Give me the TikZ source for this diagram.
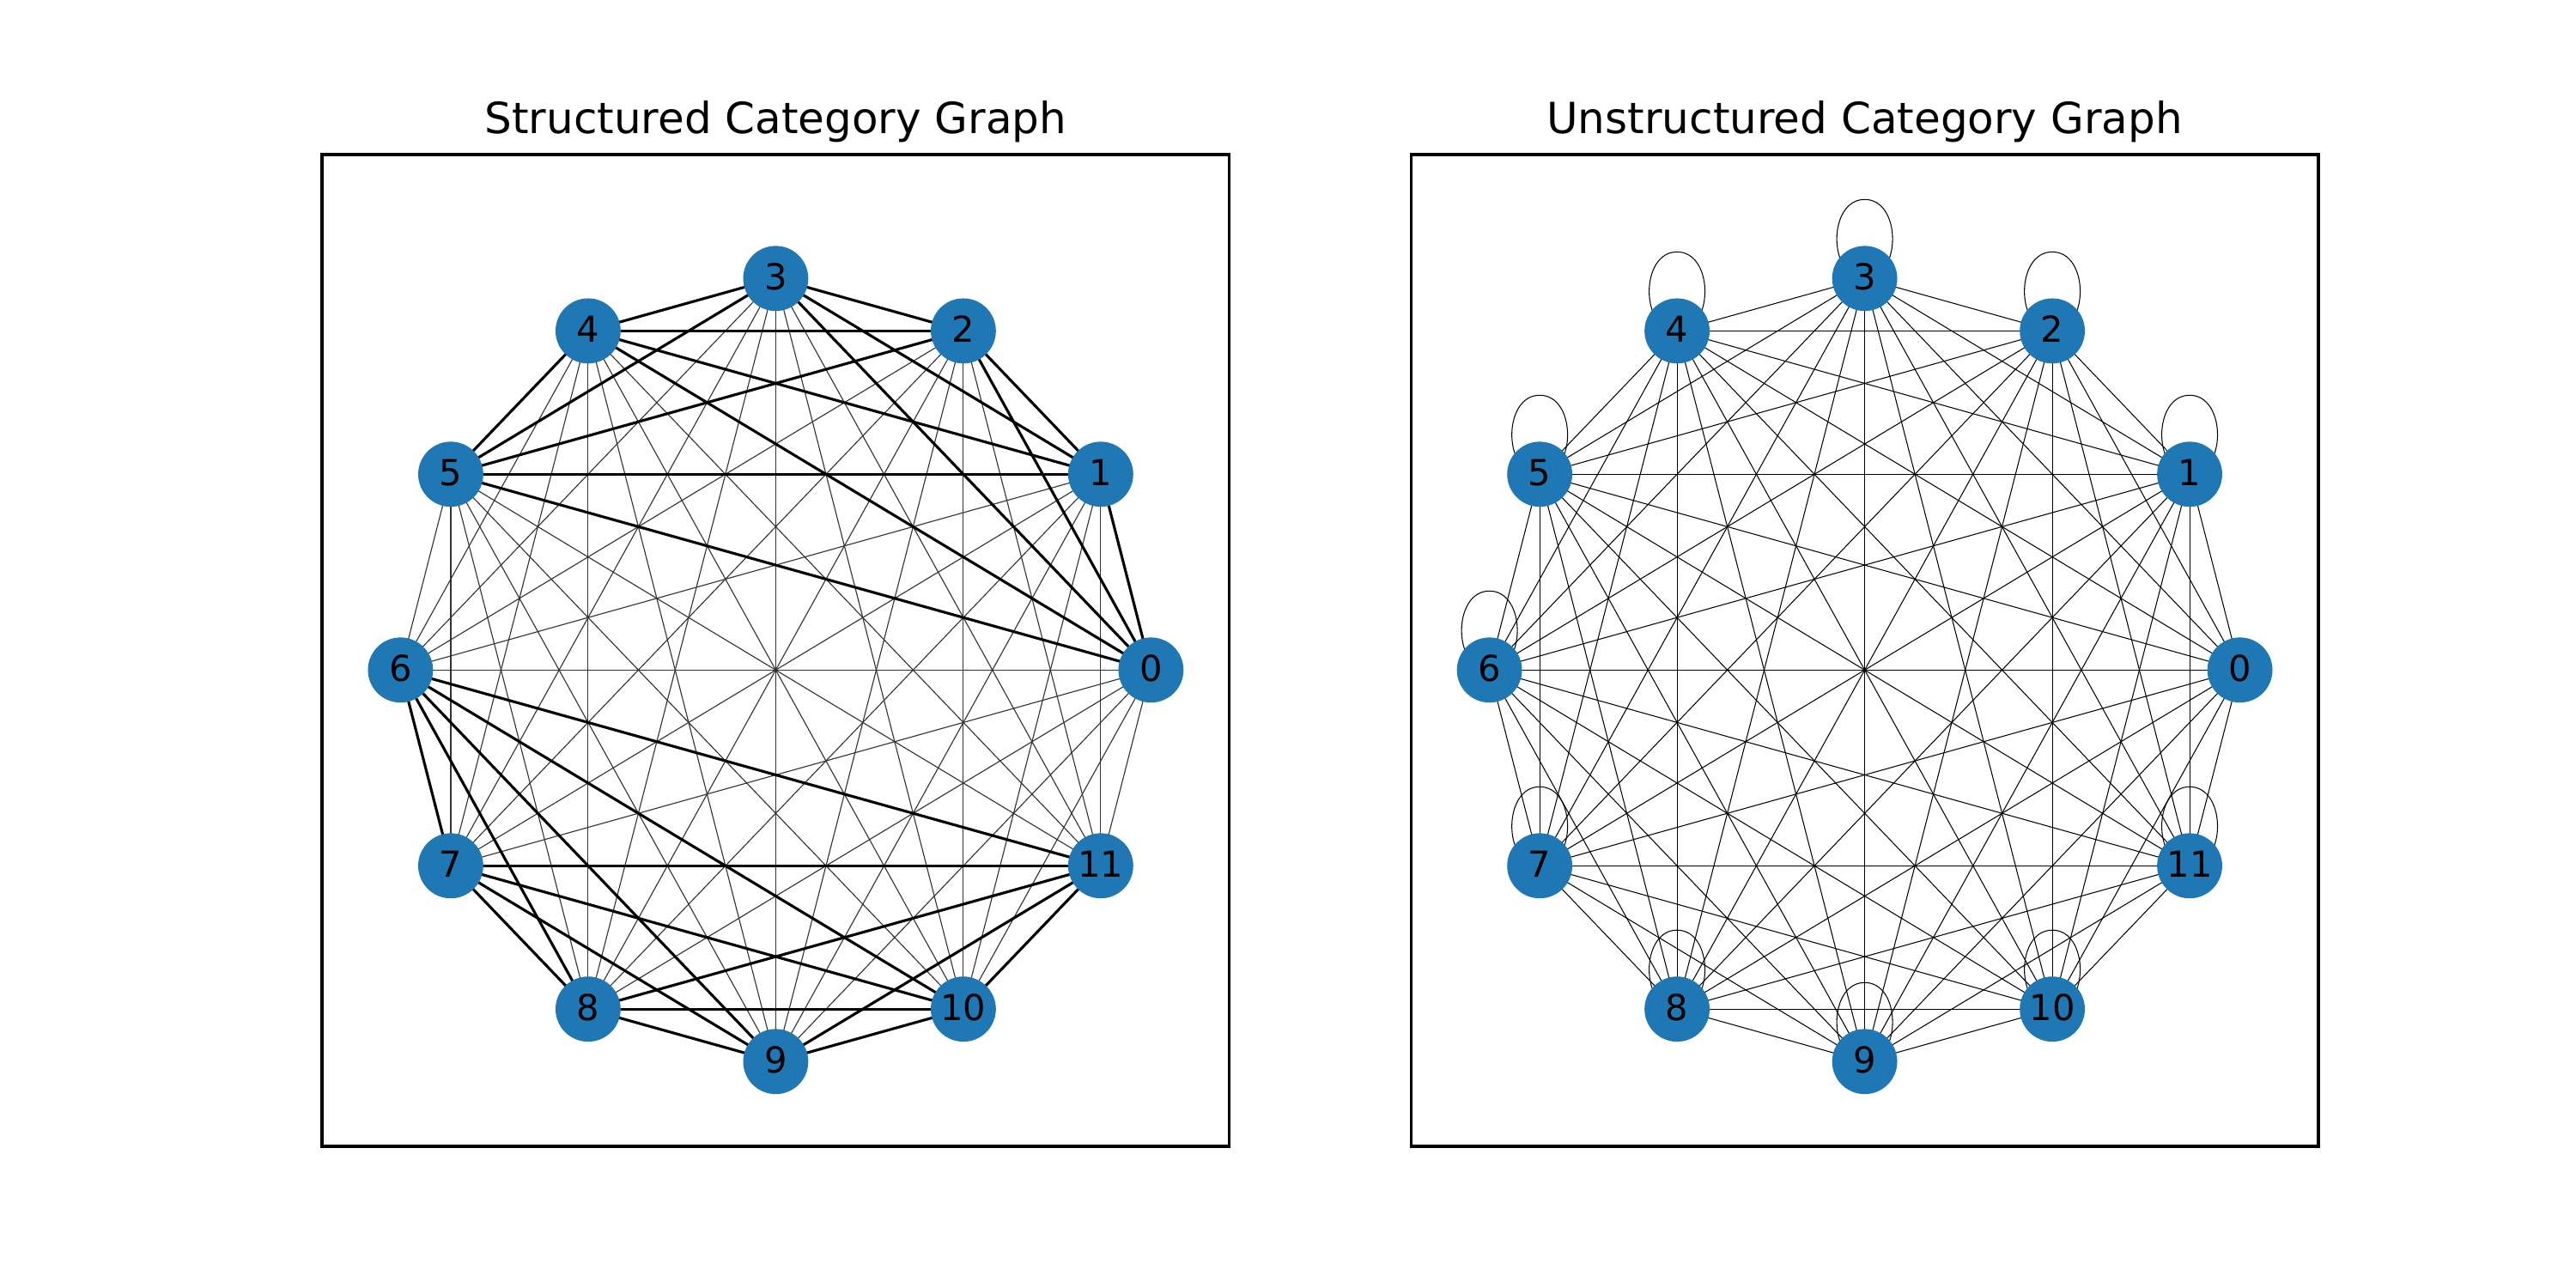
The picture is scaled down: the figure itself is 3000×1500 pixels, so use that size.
\documentclass[tikz,border=0pt]{standalone}
\usepackage{fontspec}
\setmainfont{DejaVu Sans}
\usetikzlibrary{backgrounds,calc}
\definecolor{nodeblue}{HTML}{1F77B4}
\tikzset{
  gnode/.style={circle, fill=nodeblue, draw=none, minimum size=18.2pt, inner sep=0pt, font=\fontsize{10}{12}\selectfont},
  thickedge/.style={line width=0.75pt, black},
  thinedge/.style={line width=0.27pt, black!80},
  plainedge/.style={line width=0.25pt, black},
  axframe/.style={line width=0.8pt, black},
  charttitle/.style={font=\fontsize{12}{14}\selectfont, anchor=base, inner sep=0pt},
}
\begin{document}
\begin{tikzpicture}[x=0.24pt,y=-0.24pt]
\useasboundingbox (0,0) rectangle (3000,1500);
% titles
\node[charttitle] (t1) at (903.4,155.7) {Structured Category Graph};
\node[charttitle] (t2) at (2171.6,155.7) {Unstructured Category Graph};
% nodes
\foreach \i in {0,...,11} {
  \node[gnode] (a\i) at ({903.4+437*cos(30*\i)}, {780.3-456*sin(30*\i)}) {\raisebox{1pt}{\i}};
  \node[gnode] (b\i) at ({2171.6+437*cos(30*\i)}, {780.3-456*sin(30*\i)}) {\raisebox{1pt}{\i}};
}
\begin{pgfonlayer}{background}
  \fill[white] (0,0) rectangle (3000,1500);
  % left: cross-group thin edges
  \foreach \i in {0,...,5} {
    \foreach \j in {6,...,11} {
      \draw[thinedge] (a\i.center) -- (a\j.center);
    }
  }
  % left: within-group thick edges
  \foreach \i in {0,...,4} {
    \pgfmathtruncatemacro\s{\i+1}
    \foreach \j in {\s,...,5} {
      \draw[thickedge] (a\i.center) -- (a\j.center);
    }
  }
  \foreach \i in {6,...,10} {
    \pgfmathtruncatemacro\s{\i+1}
    \foreach \j in {\s,...,11} {
      \draw[thickedge] (a\i.center) -- (a\j.center);
    }
  }
  % right: complete graph
  \foreach \i in {0,...,10} {
    \pgfmathtruncatemacro\s{\i+1}
    \foreach \j in {\s,...,11} {
      \draw[plainedge] (b\i.center) -- (b\j.center);
    }
  }
  % right: self loops
  \foreach \i in {1,...,11} {
    \draw[plainedge] ($(b\i)+(0,-92)$) .. controls ($(b\i)+(43.3,-92)$) and ($(b\i)+(43.3,0)$) .. (b\i.center)
      .. controls ($(b\i)+(-43.3,0)$) and ($(b\i)+(-43.3,-92)$) .. ($(b\i)+(0,-92)$);
  }
\end{pgfonlayer}
% axes frames
\draw[axframe] (375,180) rectangle (1431.8,1335);
\draw[axframe] (1643.2,180) rectangle (2700,1335);
\end{tikzpicture}
\end{document}
